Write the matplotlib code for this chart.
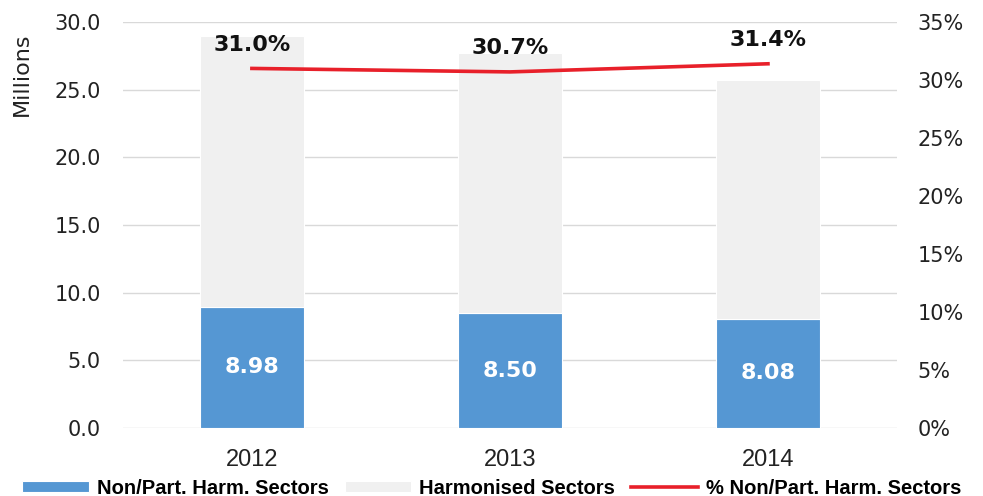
import matplotlib
matplotlib.use("Agg")
import matplotlib.pyplot as plt
from matplotlib.ticker import FuncFormatter
import numpy as np

# data
years = ['2012', '2013', '2014']
non_part = [8.98, 8.50, 8.08]
harmonised = [19.99, 19.19, 17.65]
pct_non_part = [31.0, 30.7, 31.4]

blue = '#5597D3'
grey = '#F0F0F0'
red = '#E8202A'

fig = plt.figure(figsize=(9.83, 4.96), dpi=100)
ax = fig.add_axes([0.125, 0.137, 0.7875, 0.8186])
x = np.arange(len(years))

ax.bar(x, non_part, width=0.4, color=blue, edgecolor='white', linewidth=0.8, zorder=2,
       label='Non/Part. Harm. Sectors')
ax.bar(x, harmonised, width=0.4, bottom=non_part, color=grey, edgecolor='white',
       linewidth=0.8, zorder=2, label='Harmonised Sectors')

for i, v in enumerate(non_part):
    ax.text(x[i], v / 2, '%.2f' % v, ha='center', va='center', color='white',
            fontsize=16, fontweight='bold', zorder=4)

ax.set_xlim(-0.5, 2.5)
ax.set_ylim(0, 30)
ax.set_yticks(np.arange(0, 31, 5))
ax.yaxis.set_major_formatter(FuncFormatter(lambda v, p: '%.1f' % v))
ax.set_xticks(x)
ax.set_xticklabels(years, fontsize=17, family='Liberation Sans')
ax.tick_params(axis='y', labelsize=15, length=0, pad=16, colors='#222222')
ax.tick_params(axis='x', length=0, pad=15, colors='#222222')
ax.grid(axis='y', color='#D9D9D9', linewidth=1, zorder=0)
ax.set_axisbelow(True)
for s in ax.spines.values():
    s.set_visible(False)

ax2 = ax.twinx()
ax2.plot(x, pct_non_part, color=red, linewidth=2.6, zorder=3,
         label='% Non/Part. Harm. Sectors')
for i, v in enumerate(pct_non_part):
    ax2.text(x[i], v + 1.2, '%.1f%%' % v, ha='center', va='bottom', fontsize=16,
             fontweight='bold', color='#111111')
ax2.set_ylim(0, 35)
ax2.set_yticks(np.arange(0, 36, 5))
ax2.yaxis.set_major_formatter(FuncFormatter(lambda v, p: '%d%%' % v))
ax2.tick_params(axis='y', labelsize=15, length=0, pad=15, colors='#222222')
for s in ax2.spines.values():
    s.set_visible(False)

fig.text(0.022, 0.85, 'Millions', rotation=90, ha='center', va='center', fontsize=16,
         color='#222222')

h1, l1 = ax.get_legend_handles_labels()
h2, l2 = ax2.get_legend_handles_labels()
fig.legend(h1 + h2, l1 + l2, loc='lower center', bbox_to_anchor=(0.5, -0.04), ncol=3,
           frameon=False, prop={'family': 'Liberation Sans', 'weight': 'bold', 'size': 14.5},
           handlelength=3.3, handleheight=0.5, columnspacing=0.8, handletextpad=0.4)

fig.savefig('out.png', dpi=100)
